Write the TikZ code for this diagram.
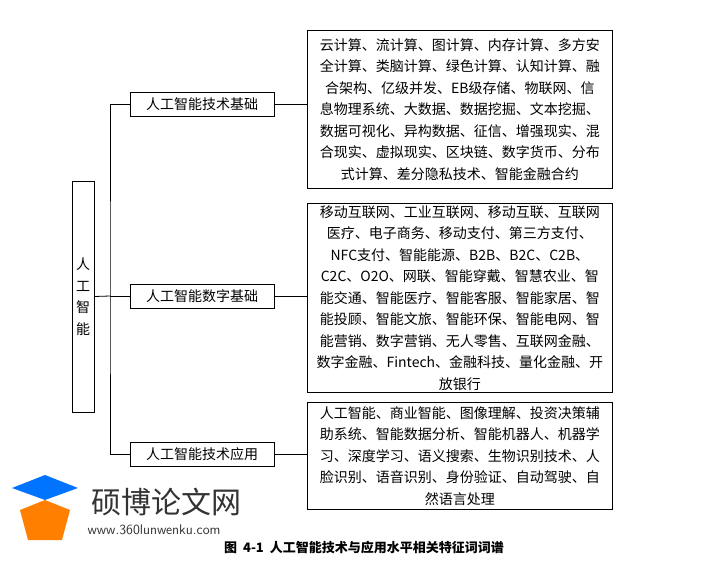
\documentclass[tikz,border=0pt]{standalone}
\usepackage{fontspec}
\newfontfamily\cjk{Noto Sans CJK SC}
\usetikzlibrary{positioning}
\tikzset{
  box/.style={draw=black,thick,font=\cjk\fontsize{14}{21.5}\selectfont,inner sep=2pt},
  midbox/.style={box,minimum width=144pt,minimum height=24pt},
  wordbox/.style={box,minimum width=305pt,align=center,anchor=north west},
  link/.style={thick,black}
}
\begin{document}
\begin{tikzpicture}[x=1pt,y=-1pt]
\useasboundingbox (0,0) rectangle (728,565);
\node[box,minimum width=22pt,minimum height=231pt,align=center,inner sep=0pt](root)at(83,296.5){人\\工\\智\\能};
\node[midbox](basis)at(202,104){人工智能技术基础};
\node[midbox](digital)at(202,296){人工智能数字基础};
\node[midbox](apply)at(202,454){人工智能技术应用};
\node[wordbox,minimum height=158pt](w1)at(307,30){云计算、流计算、图计算、内存计算、多方安\\全计算、类脑计算、绿色计算、认知计算、融\\合架构、亿级并发、EB级存储、物联网、信\\息物理系统、大数据、数据挖掘、文本挖掘、\\数据可视化、异构数据、征信、增强现实、混\\合现实、虚拟现实、区块链、数字货币、分布\\式计算、差分隐私技术、智能金融合约};
\node[wordbox,minimum height=188pt](w2)at(307,203){移动互联网、工业互联网、移动互联、互联网\\医疗、电子商务、移动支付、第三方支付、\\NFC支付、智能能源、B2B、B2C、C2B、\\C2C、O2O、网联、智能穿戴、智慧农业、智\\能交通、智能医疗、智能客服、智能家居、智\\能投顾、智能文旅、智能环保、智能电网、智\\能营销、数字营销、无人零售、互联网金融、\\数字金融、Fintech、金融科技、量化金融、开\\放银行};
\node[wordbox,minimum height=107pt](w3)at(307,402){人工智能、商业智能、图像理解、投资决策辅\\助系统、智能数据分析、智能机器人、机器学\\习、深度学习、语义搜索、生物识别技术、人\\脸识别、语音识别、身份验证、自动驾驶、自\\然语言处理};
\coordinate(trunk)at(110,296);
\draw[link](root.east)--(trunk);
\draw[link](basis.west)-|(trunk)|-(apply.west);
\draw[link](trunk)--(digital.west);
\draw[link](basis.east)--(basis.east-|w1.west);
\draw[link](digital.east)--(digital.east-|w2.west);
\draw[link](apply.east)--(apply.east-|w3.west);
% watermark
\fill[blue!55!cyan](12,488)--(45,475)--(78,488)--(45,500)--cycle;
\fill[orange](20,510)--(45,500)--(70,510)--(62,540)--(28,540)--cycle;
\node[font=\cjk\fontsize{30}{30}\selectfont,text=black!80,anchor=west](mark)at(88,502){硕博论文网};
\node[font=\sffamily\fontsize{14}{14}\selectfont,text=black!80,anchor=west](site)at(84,530){www.360lunwenku.com};
\node[font=\cjk\bfseries\fontsize{13}{13}\selectfont](caption)at(364,548){图\ \ 4-1\ \ 人工智能技术与应用水平相关特征词词谱};
\end{tikzpicture}
\end{document}
